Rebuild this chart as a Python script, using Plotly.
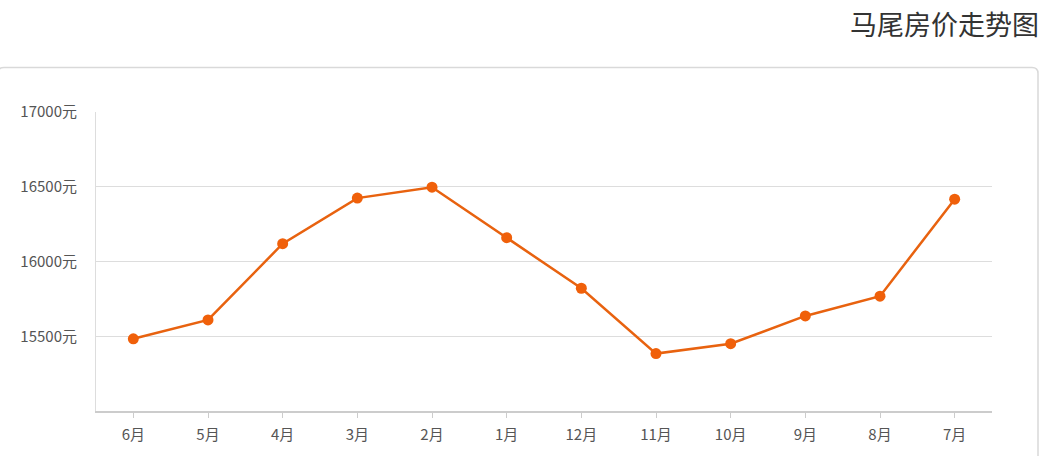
import plotly.graph_objects as go

months = ["6月", "5月", "4月", "3月", "2月", "1月", "12月", "11月", "10月", "9月", "8月", "7月"]
prices = [15483, 15609, 16119, 16424, 16497, 16159, 15821, 15384, 15450, 15636, 15768, 16417]
y_ticks = [15500, 16000, 16500, 17000]
y_tick_labels = ["15500元", "16000元", "16500元", "17000元"]
title_text = "马尾房价走势图"

W, H = 1051, 456
L, R, T, B = 96, 59, 112, 42
pw, ph = W - L - R, H - T - B

def px_x(x):
    return (x - L) / pw

def px_y(y):
    return (H - B - y) / ph

fig = go.Figure()
fig.add_trace(go.Scatter(
    x=months, y=prices, mode="lines+markers",
    line=dict(color="#e8620f", width=2.5),
    marker=dict(color="#f0600a", size=11),
    hoverinfo="x+y", showlegend=False,
))

# card border with rounded corners
x0, x1, y0, y1, r = -2, 1038, 67, 470, 6
path = (f"M {px_x(x0)},{px_y(y1)} L {px_x(x0)},{px_y(y0 + r)} "
        f"Q {px_x(x0)},{px_y(y0)} {px_x(x0 + r)},{px_y(y0)} "
        f"L {px_x(x1 - r)},{px_y(y0)} Q {px_x(x1)},{px_y(y0)} {px_x(x1)},{px_y(y0 + r)} "
        f"L {px_x(x1)},{px_y(y1)}")
fig.add_shape(type="path", path=path, xref="paper", yref="paper",
              line=dict(color="#d9d9d9", width=1.5), layer="below")

fig.add_annotation(text=title_text, xref="paper", yref="paper",
                   x=px_x(1041), y=px_y(23), xanchor="right", yanchor="middle",
                   showarrow=False, font=dict(size=27, color="#333333"))

fig.update_layout(
    width=W, height=H,
    margin=dict(l=L, r=R, t=T, b=B),
    paper_bgcolor="white", plot_bgcolor="white",
    font=dict(family="Noto Sans CJK SC, Noto Sans, sans-serif", color="#555555"),
    xaxis=dict(
        type="category", range=[-0.5, 11.5],
        showline=True, linecolor="#cccccc", linewidth=2,
        ticks="outside", ticklen=5, tickcolor="#cccccc",
        showgrid=False, tickfont=dict(size=15, color="#555555"),
        ticklabelstandoff=4,
        fixedrange=True,
    ),
    yaxis=dict(
        range=[15000, 17000],
        tickvals=y_ticks, ticktext=y_tick_labels,
        showline=True, linecolor="#dddddd", linewidth=1,
        gridcolor="#dddddd", gridwidth=1,
        zeroline=False, ticks="", ticklabelstandoff=15,
        tickfont=dict(size=15, color="#555555"),
        fixedrange=True,
    ),
)

fig.write_html("out.html")
